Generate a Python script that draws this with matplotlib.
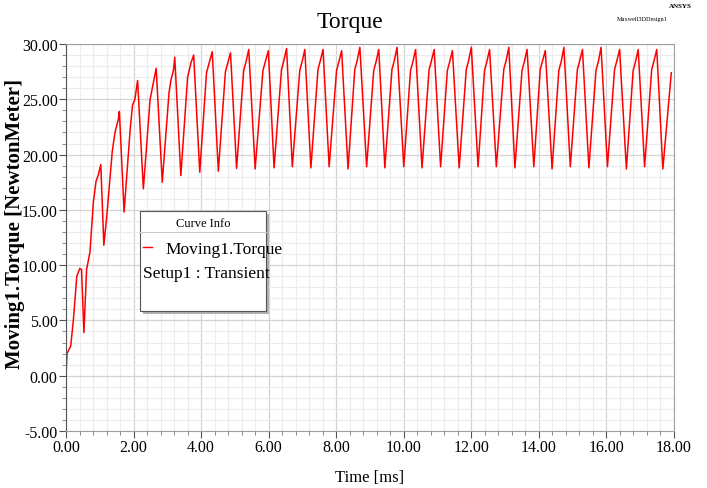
import matplotlib
matplotlib.use("Agg")
import matplotlib.pyplot as plt
from matplotlib.patches import Rectangle
from matplotlib.lines import Line2D
from matplotlib.ticker import MultipleLocator, FormatStrFormatter

plt.rcParams['font.family'] = ['Liberation Serif', 'DejaVu Serif']

# start-up transient (time in ms, torque in N.m)
start_t = [0.00, 0.03, 0.14, 0.22, 0.32, 0.41, 0.46, 0.53, 0.61, 0.71, 0.81, 0.89, 0.96]
start_v = [0.0, 2.0, 2.7, 5.1, 9.0, 9.7, 9.6, 3.9, 9.6, 11.2, 15.7, 17.6, 18.2]

# peaks of every cycle
peak_t = [1.03, 1.58, 2.12, 2.67, 3.22, 3.78, 4.33, 4.87, 5.41, 5.99,
          6.53, 7.07, 7.61, 8.16, 8.70, 9.26, 9.80, 10.35, 10.90, 11.44,
          12.00, 12.54, 13.11, 13.65, 14.19, 14.74, 15.29, 15.84, 16.39, 16.94, 17.49]
peak_v = [19.1, 23.9, 26.7, 27.8, 28.8, 29.0, 29.3, 29.2, 29.5, 29.4,
          29.6, 29.5, 29.5, 29.4, 29.7, 29.5, 29.7, 29.5, 29.5, 29.4,
          29.7, 29.5, 29.7, 29.5, 29.4, 29.7, 29.5, 29.7, 29.5, 29.5, 29.5]

# troughs of every cycle
trough_t = [1.12, 1.72, 2.29, 2.85, 3.40, 3.96, 4.51, 5.05, 5.60, 6.16,
            6.70, 7.25, 7.79, 8.35, 8.90, 9.44, 10.00, 10.54, 11.09, 11.64,
            12.20, 12.74, 13.29, 13.85, 14.39, 14.93, 15.48, 16.03, 16.59, 17.13, 17.67]
trough_v = [11.8, 14.8, 16.9, 17.5, 18.1, 18.4, 18.5, 18.75, 18.7, 18.8,
            18.9, 18.8, 18.9, 18.7, 18.9, 18.8, 18.9, 18.8, 18.9, 18.8,
            18.9, 18.9, 18.8, 18.9, 18.7, 18.9, 18.8, 18.9, 18.7, 18.9, 18.7]

# knee / shoulder points on the rising edges
rise_t = [1.20, 1.30, 1.37, 1.45, 1.55,
          1.90, 1.97, 2.04,
          2.49, 2.56,
          3.05, 3.11, 3.18,
          3.60, 3.70,
          4.16, 4.23,
          4.72, 4.79, 5.26, 5.33, 5.83, 5.90, 6.38, 6.45,
          6.92, 6.99, 7.46, 7.53, 8.01, 8.08, 8.55, 8.62,
          9.11, 9.18, 9.65, 9.72, 10.20, 10.27, 10.75, 10.82,
          11.29, 11.36, 11.85, 11.92, 12.39, 12.46, 12.96, 13.03,
          13.50, 13.57, 14.04, 14.11, 14.59, 14.66, 15.14, 15.21,
          15.69, 15.76, 16.24, 16.31, 16.79, 16.86, 17.34, 17.41,
          17.92]
rise_v = [14.2, 17.8, 20.3, 22.0, 23.2,
          22.3, 24.5, 25.0,
          25.0, 26.1,
          25.6, 26.8, 27.6,
          27.0, 28.3,
          27.4, 28.2,
          27.5, 28.3, 27.6, 28.4, 27.6, 28.4, 27.7, 28.5,
          27.6, 28.4, 27.7, 28.5, 27.6, 28.4, 27.7, 28.5,
          27.6, 28.4, 27.7, 28.5, 27.6, 28.4, 27.7, 28.5,
          27.6, 28.4, 27.7, 28.5, 27.6, 28.4, 27.7, 28.5,
          27.6, 28.4, 27.7, 28.5, 27.6, 28.4, 27.7, 28.5,
          27.6, 28.4, 27.7, 28.5, 27.6, 28.4, 27.7, 28.5,
          27.4]

pts = sorted(zip(start_t + peak_t + trough_t + rise_t,
                 start_v + peak_v + trough_v + rise_v))
time_ms = [p[0] for p in pts]
torque = [p[1] for p in pts]

fig = plt.figure(figsize=(7.07, 4.89), dpi=100)
ax = fig.add_axes([66 / 707, 1 - 432 / 489, 608 / 707, 387 / 489])

ax.plot(time_ms, torque, color='#ff0000', lw=1.1)

ax.set_xlim(0, 18)
ax.set_ylim(-5, 30)
ax.xaxis.set_major_locator(MultipleLocator(2))
ax.xaxis.set_minor_locator(MultipleLocator(0.4))
ax.yaxis.set_major_locator(MultipleLocator(5))
ax.yaxis.set_minor_locator(MultipleLocator(1))
ax.xaxis.set_major_formatter(FormatStrFormatter('%.2f'))
ax.yaxis.set_major_formatter(FormatStrFormatter('%.2f'))
ax.grid(which='major', color='#d4d4d4', lw=0.9)
ax.grid(which='minor', color='#ececec', lw=0.8)
ax.set_axisbelow(True)
ax.tick_params(which='major', direction='out', length=5, width=0.8,
               color='#555555', labelsize=11.5, pad=1)
ax.tick_params(which='minor', direction='out', length=3, width=0.6, color='#777777')
for s in ['top', 'right', 'bottom']:
    ax.spines[s].set_color('#a0a0a0')
ax.spines['left'].set_color('#555555')

ax.set_xlabel('Time [ms]', fontsize=12)
ax.xaxis.set_label_coords(0.50, -0.097)
ax.set_ylabel('Moving1.Torque [NewtonMeter]', fontsize=15, fontweight='bold')
ax.yaxis.set_label_coords(-0.068, 0.537)
fig.text(0.495, 0.955, 'Torque', ha='center', va='center', fontsize=17)
fig.text(0.978, 0.992, 'ANSYS', ha='right', va='top', fontsize=5, fontweight='bold')
fig.text(0.945, 0.965, 'Maxwell3DDesign1', ha='right', va='top', fontsize=4.5)

# Curve Info box
x0, y0, w, h = 140 / 707, 1 - 312 / 489, 126 / 707, 100 / 489
fig.patches.append(Rectangle((x0 + 3 / 707, y0 - 3 / 489), w, h, transform=fig.transFigure,
                             facecolor='#b0b0b0', edgecolor='none', zorder=5))
fig.patches.append(Rectangle((x0, y0), w, h, transform=fig.transFigure,
                             facecolor='white', edgecolor='#555555', lw=0.8, zorder=6))
fig.lines.append(Line2D([x0, x0 + w], [1 - 233 / 489] * 2, transform=fig.transFigure,
                        color='#cccccc', lw=0.8, zorder=7))
fig.lines.append(Line2D([143 / 707, 152 / 707], [1 - 248 / 489] * 2, transform=fig.transFigure,
                        color='#ff0000', lw=1.0, zorder=7))
fig.text(x0 + w / 2, 1 - 224 / 489, 'Curve Info', ha='center', va='center', fontsize=9, zorder=8)
fig.text(165 / 707, 1 - 250 / 489, 'Moving1.Torque', ha='left', va='center', fontsize=12.5, zorder=8)
fig.text(143 / 707, 1 - 274 / 489, 'Setup1 : Transient', ha='left', va='center', fontsize=12.5, zorder=8)

fig.savefig('out.png', dpi=100)
plt.close('all')
